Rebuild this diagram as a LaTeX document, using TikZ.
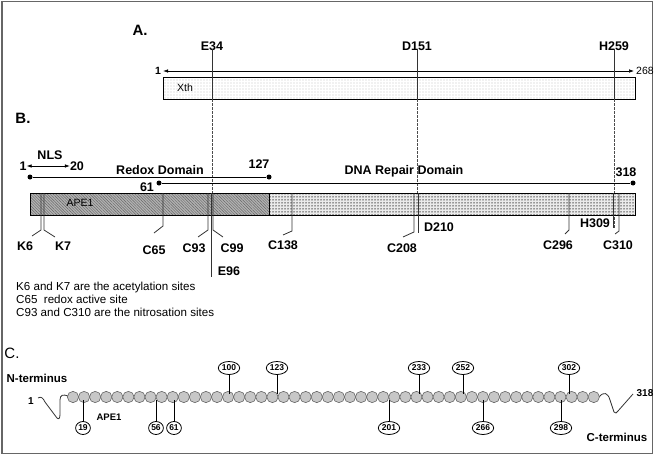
\documentclass[tikz,border=0pt]{standalone}
\usepackage{fontspec}
\setmainfont{Liberation Sans}
\usetikzlibrary{arrows.meta,patterns.meta,shapes.geometric}
\tikzset{>={Latex[width=3.5pt,length=5pt]}}
\tikzset{
  panel/.style={font=\fontsize{15}{17}\selectfont\bfseries, inner sep=0pt},
  lbl/.style={font=\fontsize{12.5}{14}\selectfont\bfseries, inner sep=0pt},
  small/.style={font=\fontsize{10.5}{12}\selectfont, inner sep=0pt},
  note/.style={font=\fontsize{11.6}{13}\selectfont, inner sep=0pt, anchor=west},
  site/.style={line width=0.8pt, black!80},
  guide/.style={line width=0.6pt, black!70, dash pattern=on 2.5pt off 1.5pt},
  enddot/.style={circle, fill, inner sep=0pt, minimum size=5pt},
  bead/.style={circle, draw=black!60, fill=black!22, minimum size=11.3pt, inner sep=0pt, line width=0.6pt},
  tag/.style={ellipse, draw, line width=0.8pt, inner sep=0.5pt, minimum width=14pt, minimum height=13pt,
    fill=white, font=\fontsize{8.5}{9}\selectfont\bfseries},
}

\begin{document}
\begin{tikzpicture}[x=1pt, y=-1pt]
  \useasboundingbox (0,0) rectangle (657,455);
  \draw[line width=1.5pt, black!60] (2,1.5) rectangle (652.5,453.5);

  %% A. Xth
  \node[panel] (pA) at (140,30) {A.};
  \draw[line width=0.6pt, pattern={Dots[distance=3pt,radius=0.45pt]}, pattern color=black!65]
    (163,77) rectangle (635,99);
  \node[small] (xth) at (185,88) {Xth};
  \node[small, font=\fontsize{10.5}{12}\selectfont\bfseries] (x1) at (158,71) {1};
  \node[small] (x268) at (645,71) {268};
  \draw[<->, line width=0.6pt] (x1.east) ++(2,0) -- ([xshift=-2pt]x268.west);

  \node[lbl] (e34) at (212,46) {E34};
  \node[lbl] (d151) at (417,46) {D151};
  \node[lbl] (h259) at (614,46) {H259};
  \coordinate (xthbot) at (0,99);
  \coordinate (apetop) at (0,193);
  \foreach \s in {e34,d151,h259}{
    \draw[site, line width=0.7pt] ([yshift=2pt]\s.south) -- (\s.south |- xthbot);
    \draw[guide] (\s.south |- xthbot) -- (\s.south |- apetop);
  }
  \draw[guide] (h259.south |- apetop) -- ++(0,35);
  \draw[guide] (e34.south |- apetop) -- ++(0,22);

  %% B. APE1
  \node[panel] (pB) at (23,118) {B.};
  \node[lbl] (nls) at (50,155) {NLS};
  \node[lbl] (n1) at (23,166) {1};
  \node[lbl] (n20) at (77,166) {20};
  \draw[<->, line width=0.6pt] (n1.east) -- (n20.west);

  \node[enddot] (r1) at (30,177) {};
  \node[enddot] (r127) at (269,177) {};
  \draw[line width=0.7pt] (r1) -- (r127);
  \node[lbl] (redox) at (160,170) {Redox Domain};
  \node[lbl] (l127) at (259,164) {127};

  \node[enddot] (d61) at (159,183) {};
  \node[enddot] (d318) at (633,183) {};
  \draw[line width=0.7pt] (d61) -- (d318);
  \node[lbl] (l61) at (147,187) {61};
  \node[lbl] (l318) at (626,172) {318};
  \node[lbl] (dna) at (404,171) {DNA Repair Domain};

  \draw[line width=0.6pt, preaction={fill=black!30}, pattern={Lines[angle=-45,distance=2pt,line width=0.45pt]},
    pattern color=black!60] (30,193) rectangle (269,215);
  \draw[line width=0.6pt, preaction={fill=black!8}, pattern={Dots[distance=3pt,radius=0.75pt]},
    pattern color=black!75] (269,193) rectangle (635,215);
  \node[small] (ape) at (80,203) {APE1};

  % bent site markers
  \foreach \sx/\sy/\ex/\ey in {41/230/32/236, 44/230/55/237, 163/226/154/233, 208/230/198/237,
      213/230/223/237, 292/231/283/235, 414/232/403/237, 569/230/565/234, 619/231/615/234}
    \draw[site] (\sx,193) -- (\sx,\sy) -- (\ex,\ey);
  % straight site markers
  \foreach \sx/\sy in {211/277, 418/233, 613/228}
    \draw[site] (\sx,193) -- (\sx,\sy);

  \node[lbl] (k6) at (25,246) {K6};
  \node[lbl] (k7) at (63,246) {K7};
  \node[lbl] (c65) at (154,250) {C65};
  \node[lbl] (c93) at (194,248) {C93};
  \node[lbl] (c99) at (232,248) {C99};
  \node[lbl] (e96) at (229,271) {E96};
  \node[lbl] (c138) at (283,245) {C138};
  \node[lbl] (c208) at (402,248) {C208};
  \node[lbl] (d210) at (439,227) {D210};
  \node[lbl] (c296) at (558,245) {C296};
  \node[lbl] (h309) at (595,223) {H309};
  \node[lbl] (c310) at (618,245) {C310};

  \node[note] (nt1) at (16,287) {K6 and K7 are the acetylation sites};
  \node[note] (nt2) at (16,299) {C65\ \ redox active site};
  \node[note] (nt3) at (16,312) {C93 and C310 are the nitrosation sites};

  %% C. bead chain
  \node[panel, font=\fontsize{15}{17}\selectfont] (pC) at (12,353) {C.};
  \node[lbl, font=\fontsize{11.5}{13}\selectfont\bfseries] (nterm) at (37,378) {N-terminus};
  \node[lbl, font=\fontsize{11.5}{13}\selectfont\bfseries] (cterm) at (617,437) {C-terminus};
  \node[small, font=\fontsize{9.5}{11}\selectfont\bfseries] (apec) at (109,417) {APE1};
  \node[small, font=\fontsize{10}{12}\selectfont\bfseries] (c1) at (31,401) {1};
  \node[small, font=\fontsize{10}{12}\selectfont\bfseries] (c318) at (645,393) {318};

  \draw[line width=0.8pt, black!80] (38,398) .. controls (41,396) and (43,398) .. (45,402) -- (57,418)
    .. controls (59,420) and (60,418) .. (60,414) -- (60,400) .. controls (60,395) and (63,394) .. (68,396);
  \draw[line width=0.8pt, black!80] (599,397) .. controls (604,391) and (608,393) .. (610,400) -- (614,412)
    .. controls (615,414) and (617,413) .. (618,411) -- (633,394);

  \foreach \i in {0,...,47}
    \node[bead] (b\i) at (73+\i*11.08,397) {};

  \foreach \n/\x in {100/229, 123/277, 233/419, 252/463, 302/569}{
    \node[tag] (t\n) at (\x,368) {\n};
    \draw[line width=0.7pt] (t\n) -- (\x,394);
  }
  \foreach \n/\x in {19/83, 56/156, 61/174, 201/389, 266/483, 298/561}{
    \node[tag] (t\n) at (\x,428) {\n};
    \draw[line width=0.7pt] (t\n) -- (\x,400);
  }
\end{tikzpicture}
\end{document}
